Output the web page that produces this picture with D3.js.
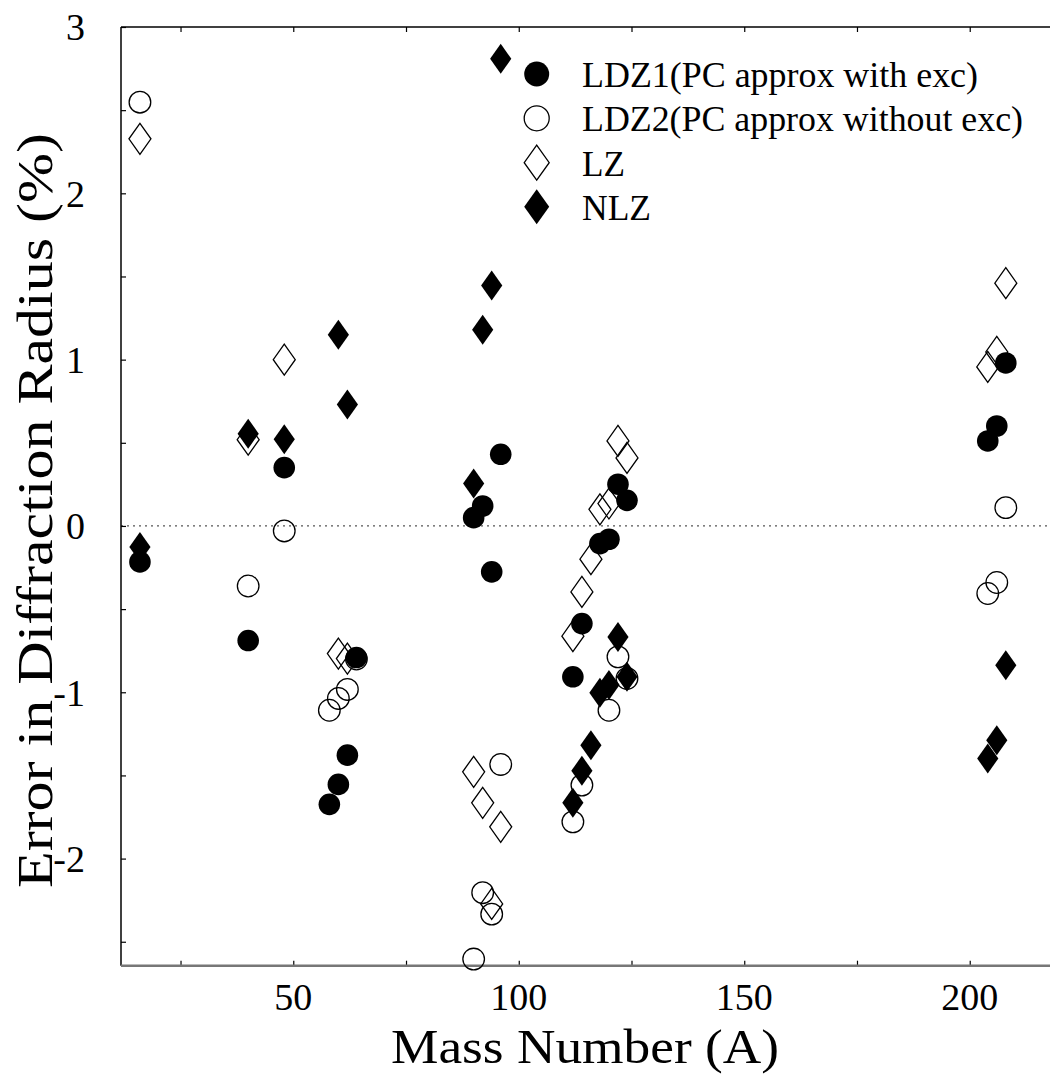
<!DOCTYPE html>
<html><head><meta charset="utf-8">
<script src="https://cdn.jsdelivr.net/npm/d3@7"></script>
<style>body{margin:0;background:#fff}svg{display:block}</style>
</head><body>
<script>
// Data: [mass number A, error %]
const LDZ1 = [[16,-0.216],[40,-0.689],[48,0.351],[58,-1.674],[60,-1.554],[62,-1.378],[64,-0.791],
  [90,0.05],[92,0.12],[94,-0.276],[96,0.431],
  [112,-0.907],[114,-0.587],[118,-0.106],[120,-0.08],[122,0.251],[124,0.154],
  [204,0.511],[206,0.601],[208,0.98]];
const LDZ2 = [[16,2.548],[40,-0.361],[48,-0.03],[58,-1.108],[60,-1.037],[62,-0.983],[64,-0.80],
  [90,-2.604],[92,-2.205],[94,-2.334],[96,-1.434],
  [112,-1.779],[114,-1.558],[120,-1.108],[122,-0.787],[124,-0.917],
  [204,-0.406],[206,-0.34],[208,0.11]];
const LZ = [[16,2.328],[40,0.519],[48,1.0],[60,-0.767],[62,-0.797],
  [90,-1.478],[92,-1.665],[94,-2.273],[96,-1.809],
  [112,-0.663],[114,-0.397],[116,-0.2],[118,0.1],[120,0.135],[122,0.511],[124,0.409],
  [204,0.956],[206,1.046],[208,1.46]];
const NLZ = [[16,-0.126],[40,0.555],[48,0.521],[60,1.15],[62,0.731],
  [90,0.255],[92,1.18],[94,1.446],[96,2.809],
  [112,-1.665],[114,-1.472],[116,-1.318],[118,-1.003],[120,-0.957],[122,-0.667],[124,-0.907],
  [204,-1.398],[206,-1.288],[208,-0.837]];
const seriesNames = ["LDZ1(PC approx with exc)","LDZ2(PC approx without exc)","LZ","NLZ"];
const xTicks = [50,100,150,200];
const xMinor = [25,75,125,175];
const yTicks = [-2,-1,0,1,2,3];
const yMinor = [-2.5,-1.5,-0.5,0.5,1.5,2.5];
const xTitle = "Mass Number (A)";
const yTitle = "Error in Diffraction Radius (%)";

// pick an installed Times-like font
function pickFont(cands){
  const c=document.createElement("canvas").getContext("2d");
  const s="abcdefghijklmnopqrstuvwxyz ABCDEFGHIJKLMNOPQRSTUVWXYZ 0123456789";
  for(const f of cands){
    let found=false;
    for(const base of ["monospace","sans-serif"]){
      c.font=`40px ${base}`; const w0=c.measureText(s).width;
      c.font=`40px "${f}", ${base}`; const w1=c.measureText(s).width;
      if(Math.abs(w1-w0)>0.5){found=true;break;}
    }
    if(found) return `"${f}", serif`;
  }
  return "serif";
}
const FONT = pickFont(["Liberation Serif","Tinos","Times New Roman","Times","Nimbus Roman","Nimbus Roman No9 L","FreeSerif","Noto Serif","DejaVu Serif"]);

const W=1050,H=1074;
const L=121,R=1050,T=27,B=965.7;
const svg=d3.select("body").append("svg").attr("width",W).attr("height",H)
  .style("font-family",FONT);
const x=d3.scaleLinear().domain([11.8,217.8]).range([L,R]);
const y=d3.scaleLinear().domain([-2.644,3]).range([B,T]);

// zero line
svg.append("line").attr("x1",L).attr("x2",R).attr("y1",y(0)).attr("y2",y(0))
  .attr("stroke","#555").attr("stroke-width",1.2).attr("stroke-dasharray","2,4");

// axes
const gL=svg.append("g").attr("transform",`translate(${L},0)`)
  .call(d3.axisRight(y).tickValues(yTicks.concat(yMinor)).tickSize(5).tickFormat(""));
const gB=svg.append("g").attr("transform",`translate(0,${B})`)
  .call(d3.axisTop(x).tickValues(xTicks.concat(xMinor)).tickSize(5).tickFormat(""));
const gT=svg.append("g").attr("transform",`translate(0,${T})`)
  .call(d3.axisBottom(x).tickValues(xTicks.concat(xMinor)).tickSize(5).tickFormat(""));
[gL,gB,gT].forEach(g=>{g.select(".domain").remove();g.selectAll("text").remove();g.selectAll("line").attr("stroke","#000").attr("stroke-width",1.2);});
svg.append("line").attr("x1",L).attr("x2",L).attr("y1",T).attr("y2",B).attr("stroke","#000").attr("stroke-width",1.5);
svg.append("line").attr("x1",L).attr("x2",R).attr("y1",T).attr("y2",T).attr("stroke","#000").attr("stroke-width",1.5);
svg.append("line").attr("x1",L).attr("x2",R).attr("y1",B).attr("y2",B).attr("stroke","#777").attr("stroke-width",2.5);

// tick labels
svg.selectAll(".yl").data(yTicks).enter().append("text").attr("class","yl")
  .attr("x",85).attr("y",d=>y(d)).attr("dy","0.35em").attr("text-anchor","end")
  .style("font-size","38px").text(d=>d);
svg.selectAll(".xl").data(xTicks).enter().append("text").attr("class","xl")
  .attr("x",d=>x(d)).attr("y",1010).attr("text-anchor","middle")
  .style("font-size","38px").text(d=>d);
svg.append("text").attr("x",391).attr("y",1063)
  .attr("textLength",388).attr("lengthAdjust","spacingAndGlyphs")
  .style("font-size","48px").text(xTitle);
svg.append("text").attr("transform","translate(52,888) rotate(-90)")
  .attr("textLength",755).attr("lengthAdjust","spacingAndGlyphs")
  .style("font-size","50px").text(yTitle);

// markers
const diamond=(rx,ry)=>`M0,${-ry}L${rx},0L0,${ry}L${-rx},0Z`;
function drawCircles(data,filled){
  svg.append("g").selectAll("circle").data(data).enter().append("circle")
    .attr("cx",d=>x(d[0])).attr("cy",d=>y(d[1])).attr("r",10.8)
    .attr("fill",filled?"#000":"none").attr("stroke","#000").attr("stroke-width",filled?0:1.3);
}
function drawDiamonds(data,filled){
  svg.append("g").selectAll("path").data(data).enter().append("path")
    .attr("transform",d=>`translate(${x(d[0])},${y(d[1])})`)
    .attr("d",filled?diamond(10.6,15):diamond(11,15.5))
    .attr("fill",filled?"#000":"none").attr("stroke","#000").attr("stroke-width",filled?0:1.3);
}
drawDiamonds(LZ,false);
drawCircles(LDZ2,false);
drawDiamonds(NLZ,true);
drawCircles(LDZ1,true);

// legend
const legY=[74,118.3,162.7,206.7];
const legW=[396,441,43,69];
const lg=svg.append("g");
lg.append("circle").attr("cx",536.7).attr("cy",legY[0]).attr("r",12.5).attr("fill","#000");
lg.append("circle").attr("cx",536.7).attr("cy",legY[1]).attr("r",12.5).attr("fill","none").attr("stroke","#000").attr("stroke-width",1.3);
lg.append("path").attr("transform",`translate(536.7,${legY[2]})`).attr("d",diamond(12.5,17.5)).attr("fill","none").attr("stroke","#000").attr("stroke-width",1.3);
lg.append("path").attr("transform",`translate(536.7,${legY[3]})`).attr("d",diamond(12.5,17.5)).attr("fill","#000");
lg.selectAll(".lt").data(seriesNames).enter().append("text").attr("class","lt")
  .attr("x",582).attr("y",(d,i)=>legY[i]+13)
  .attr("textLength",(d,i)=>legW[i]).attr("lengthAdjust","spacingAndGlyphs")
  .style("font-size","36px").text(d=>d);
</script>
</body></html>
